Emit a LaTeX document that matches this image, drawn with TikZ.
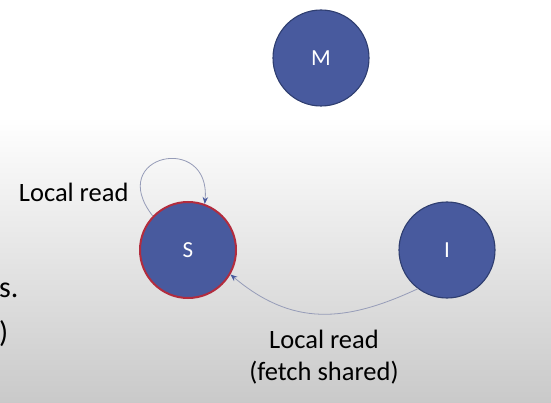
\documentclass[tikz,border=0pt]{standalone}
\usepackage{fontspec}
\setmainfont{Carlito}
\usetikzlibrary{arrows.meta}
\definecolor{stateblue}{RGB}{72,90,158}
\definecolor{stateedge}{RGB}{47,62,112}
\definecolor{sharededge}{RGB}{178,44,62}
\definecolor{edgeline}{RGB}{150,156,184}
\begin{document}
\begin{tikzpicture}[x=1pt,y=1pt,
  state/.style={circle,fill=stateblue,draw=stateedge,line width=1.1pt,
    minimum size=96pt,inner sep=0pt,text=white,font=\fontsize{23}{28}\selectfont},
  trans/.style={draw=edgeline,line width=0.8pt,
    -{Stealth[length=7pt,width=5.5pt,color=stateblue,fill=stateblue]}},
  lbl/.style={font=\fontsize{26.5}{32}\selectfont,text=black}]
\clip (0,0) rectangle (551,402);
\fill[white] (0,0) rectangle (551,402);
\shade[top color=white,bottom color=gray!42] (0,0) rectangle (551,285);

\node[state] (M) at (321,344) {M};
\node[state,draw=sharededge,line width=2pt] (S) at (188,152) {S};
\node[state] (I) at (447,152) {I};

\draw[trans] (S.136) .. controls +(128:78) and +(85:72) .. (S.70);
\node[lbl,anchor=east] (selflbl) at (132,210) {Local read};

\draw[trans] (I.233) to[out=205,in=-40,looseness=1.1] (S.-30);
\node[lbl,align=center] (readlbl) at (324,45) {Local read\\(fetch shared)};

% cut off slide text on the left
\node[font=\fontsize{30}{36}\selectfont,anchor=base west,inner sep=0pt] (cuts) at (-1,105) {s.};
\node[font=\fontsize{30}{36}\selectfont,anchor=base west,inner sep=0pt] (cutp) at (-1,60) {)};
\end{tikzpicture}
\end{document}
